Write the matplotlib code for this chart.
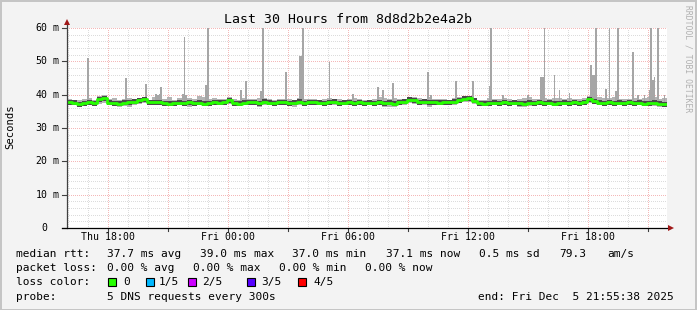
import numpy as np
import matplotlib
matplotlib.use('Agg')
import matplotlib.pyplot as plt
from matplotlib import transforms
from matplotlib.patches import Rectangle

# ---------------- data ----------------
START = 15 + 55/60 + 38/3600          # Thu 15:55:38 (hours since Thu 00:00)
SPAN = 30.0                            # hours shown
BIN_H = 0.25                           # median bins: 15 minutes
STEP_H = 5/60                          # probe step: 300 s

median_ms = [
    37.7,37.6,37.2,37.5,37.8,37.4,38.6,39.0,37.6,37.4,
    37.3,37.6,37.8,37.9,38.3,38.6,37.7,37.8,37.7,37.5,
    37.3,37.4,37.6,37.5,37.8,37.4,37.6,37.3,37.5,37.7,
    37.6,37.8,38.4,37.5,37.3,37.6,37.8,37.7,37.4,37.9,
    37.6,37.5,37.8,37.7,37.4,37.6,37.9,37.5,37.7,37.8,
    37.6,37.4,37.7,37.9,37.5,37.6,37.8,37.4,37.7,37.5,
    37.6,37.4,37.8,37.5,37.6,37.3,37.7,37.9,38.5,38.3,
    37.8,37.9,37.7,37.8,37.6,37.8,37.7,37.9,38.4,38.8,
    39.0,38.2,37.4,37.3,37.5,37.6,37.4,37.7,37.5,37.6,
    37.4,37.3,37.6,37.5,37.7,37.4,37.6,37.3,37.5,37.6,
    37.4,37.7,37.5,37.8,38.6,38.1,37.6,37.5,37.7,37.4,
    37.6,37.5,37.7,37.4,37.6,37.3,37.5,37.6,37.3,37.1,
]
smoke_hi_ms = [
    38.8,38.4,38.3,38.8,38.9,38.5,39.6,39.8,38.6,39.0,
    38.4,38.7,38.9,38.6,39.1,39.4,38.5,39.4,39.6,38.7,
    39.2,38.5,39.0,39.8,38.9,38.7,39.6,39.3,38.8,38.9,
    38.6,38.8,39.2,38.7,38.5,38.9,38.6,38.8,39.0,38.9,
    38.7,38.5,38.8,38.6,38.8,38.5,38.9,38.7,38.6,38.7,
    38.5,38.8,39.0,38.8,38.6,38.5,38.8,39.0,38.7,38.5,
    38.4,38.8,39.3,39.0,38.7,39.1,38.8,38.6,39.3,39.2,
    38.9,38.8,39.2,38.8,38.6,38.7,38.5,38.9,39.2,39.6,
    39.7,39.0,38.5,38.4,39.0,38.8,38.6,39.0,38.7,38.5,
    38.6,38.9,39.2,38.6,38.8,39.0,38.7,38.9,39.1,38.7,
    39.0,38.7,38.8,38.9,39.6,39.8,39.3,39.0,39.1,39.2,
    38.7,38.8,38.7,39.0,38.8,38.9,39.4,39.2,38.7,39.0,
]
smoke_lo_ms = [
    36.9,36.8,36.6,36.7,37.0,36.7,37.3,37.6,36.9,36.6,
    36.3,36.6,36.4,37.0,37.3,37.4,36.9,37.0,36.8,36.7,
    36.5,36.7,36.8,36.6,36.3,36.6,36.8,36.6,36.7,36.9,
    36.8,37.0,37.2,36.7,36.5,36.8,37.0,36.8,36.4,37.0,
    36.8,36.7,37.0,36.8,36.5,36.3,37.0,36.7,36.8,37.0,
    36.8,36.6,36.9,37.0,36.7,36.8,37.0,36.6,36.9,36.7,
    36.8,36.5,37.0,36.4,36.4,36.3,36.9,37.0,37.4,37.2,
    36.9,37.0,36.3,37.0,36.8,37.0,36.9,37.0,37.4,37.7,
    37.9,37.3,36.6,36.5,36.7,36.8,36.6,36.9,36.7,36.8,
    36.4,36.3,36.5,36.7,36.9,36.6,36.8,36.5,36.7,36.8,
    36.6,36.9,36.7,37.0,37.5,37.2,36.8,36.7,36.9,36.6,
    36.8,36.7,36.9,36.6,36.8,36.5,36.7,36.5,36.4,36.2,
]
# outlier pings: (probe step index, rtt in ms)
spike_step = [12, 35, 47, 53, 54, 55, 56, 69, 70, 71, 83, 84, 104, 107, 116, 117,
              131, 139, 140, 141, 157, 171, 186, 189, 195, 216, 218, 233, 243,
              253, 254, 261, 276, 284, 285, 286, 292, 295, 301, 314, 315, 316,
              317, 323, 325, 329, 330, 339, 342, 346, 349, 350, 351, 352, 354, 358]
spike_ms = [51.1, 45.1, 43.2, 40.2, 40.0, 40.3, 42.4, 40.2, 57.4, 40.0, 43.0, 72.0,
            41.4, 44.1, 41.0, 75.0, 46.7, 51.6, 51.6, 68.0, 49.9, 40.2, 42.4, 41.4,
            43.4, 46.7, 40.0, 44.1, 44.1, 42.6, 70.0, 40.0, 40.0, 45.4, 45.4, 80.0,
            45.9, 41.4, 40.5, 48.9, 45.9, 45.9, 65.0, 41.7, 70.0, 41.0, 80.0, 52.9,
            40.0, 40.0, 41.4, 70.0, 44.3, 45.4, 70.0, 40.0]

y_ticks = [0, 10, 20, 30, 40, 50, 60]
x_tick_hours = [18, 24, 30, 36, 42]
x_tick_labels = ['Thu 18:00', 'Fri 00:00', 'Fri 06:00', 'Fri 12:00', 'Fri 18:00']

title = 'Last 30 Hours from 8d8d2b2e4a2b'
rtt_avg, rtt_max, rtt_min, rtt_now, rtt_sd, rtt_ams = 37.7, 39.0, 37.0, 37.1, 0.5, 79.3
loss_avg, loss_max, loss_min, loss_now = 0.0, 0.0, 0.0, 0.0
loss_labels = ['0', '1/5', '2/5', '3/5', '4/5']
loss_colors = ['#26ff00', '#00b8ff', '#cc00ff', '#5500ff', '#ff0000']
probe_text = '5 DNS requests every 300s'
end_text = 'end: Fri Dec  5 21:55:38 2025'

# ---------------- figure ----------------
W, H = 697, 310
plt.rcParams['font.family'] = ['DejaVu Sans Mono']
fig = plt.figure(figsize=(W/100, H/100), dpi=100, facecolor='#f3f3f3')
fig.patches.append(Rectangle((0.5/W, 0.5/H), 1 - 1.5/W, 1 - 1.5/H, transform=fig.transFigure,
                             fill=False, edgecolor='#c4c4c4', lw=1.4))

ax = fig.add_axes([67/W, 82/H, 600/W, 200/H])
ax.set_facecolor('white')
ax.set_xlim(START, START + SPAN)
ax.set_ylim(0, 60)
for s in ax.spines.values():
    s.set_visible(False)
ax.set_xticks([]); ax.set_yticks([])

# grid (dotted, crisp, pale)
dot = (0, (1, 1.6))
gkw = dict(lw=0.72, ls=dot, antialiased=False)
for v in np.arange(2, 61, 2):
    if v % 10:
        ax.axhline(v, color='#dcdcdc', zorder=0.5, **gkw)
for v in y_ticks[1:]:
    ax.axhline(v, color='#f4b8b8', zorder=0.6, **gkw)
first_hour = np.ceil(START)
for h in np.arange(first_hour, START + SPAN, 1.0):
    if int(h) % 3:
        ax.axvline(h, color='#dcdcdc', zorder=0.5, **gkw)
    else:
        ax.axvline(h, color='#f4b8b8', zorder=0.6, **gkw)

# smoke
med = np.array(median_ms)
lo = np.array(smoke_lo_ms)
hi = np.array(smoke_hi_ms)
t_bins = START + BIN_H * np.arange(len(med))
ax.bar(t_bins, hi - lo, bottom=lo, width=BIN_H, align='edge', color='#b4b4b4', lw=0, zorder=2)

sp_t = START + STEP_H * np.array(spike_step)
sp_v = np.array(spike_ms)
base = med[(np.array(spike_step) * STEP_H / BIN_H).astype(int)]
ax.bar(sp_t, sp_v - base, bottom=base, width=STEP_H, align='edge', color='#a6a6a6', lw=0, zorder=2.5)

t_edges = np.append(t_bins, START + SPAN)
med_ext = np.append(med, med[-1])
ax.fill_between(t_edges, med_ext - 0.75, med_ext + 0.75, step='post', color='#4a4a4a', lw=0, zorder=3)
ax.step(t_edges, med_ext, where='post', color=loss_colors[0], lw=2.0, zorder=4)

# axes lines + arrows
axis_c = '#404040'
ax.plot([0, 0], [0, 1 + 6/200], transform=ax.transAxes, color=axis_c, lw=0.9, clip_on=False, zorder=5)
ax.plot([-5/600, 1 + 3/600], [0, 0], transform=ax.transAxes, color='black', lw=0.9, clip_on=False, zorder=5)
ax.plot([0], [1 + 6/200], transform=ax.transAxes, marker='^', ms=4.5, color='#a01818', mew=0,
        clip_on=False, zorder=6)
ax.plot([1 + 4/600], [0], transform=ax.transAxes, marker='>', ms=4.5, color='#a01818', mew=0,
        clip_on=False, zorder=6)

# y ticks & labels
yt = transforms.blended_transform_factory(fig.transFigure, ax.transData)
for v in y_ticks:
    ax.plot([62/W, 67/W], [v, v], transform=yt, color=axis_c, lw=0.8, clip_on=False)
    fig.text(47.5/W, v, f'{v}', transform=yt, ha='right', va='center', fontsize=7.1, color='black')
    if v:
        fig.text(53/W, v, 'm', transform=yt, ha='left', va='center', fontsize=7.1, color='black')

# x ticks & labels
xt = transforms.blended_transform_factory(ax.transData, fig.transFigure)
for h in np.arange(first_hour, START + SPAN, 1.0):
    if int(h) % 3 == 0:
        ax.plot([h, h], [1 - 228/H, 1 - 231/H], transform=xt, color=axis_c, lw=0.8, clip_on=False)
for h, lab in zip(x_tick_hours, x_tick_labels):
    fig.text(h, 1 - 237.5/H, lab, transform=xt, ha='center', va='center', fontsize=7.1)

# title and side texts
fig.text(347.5/W, 1 - 19.5/H, title, ha='center', va='center', fontsize=9.5)
fig.text(10/W, 1 - 127/H, 'Seconds', rotation=90, ha='center', va='center', fontsize=7.6)
fig.text(688/W, 1 - 5/H, 'RRDTOOL / TOBI OETIKER', rotation=270, ha='center', va='top',
         fontsize=5.8, color='#b0b0b0')

# legend
fs = 8
def row(y, chunks):
    for txt, x in chunks:
        fig.text(x/W, 1 - y/H, txt, ha='left', va='center', fontsize=fs)

row(254, [('median rtt:', 16), (f'{rtt_avg:.1f} ms avg', 107), (f'{rtt_max:.1f} ms max', 200),
          (f'{rtt_min:.1f} ms min', 292), (f'{rtt_now:.1f} ms now', 386), (f'{rtt_sd:.1f} ms sd', 479),
          (f'{rtt_ams:.1f}', 559), ('am/s', 607)])
row(268, [('packet loss:', 16), (f'{loss_avg:.2f} % avg', 107), (f'{loss_max:.2f} % max', 193),
          (f'{loss_min:.2f} % min', 279), (f'{loss_now:.2f} % now', 365)])
row(282, [('loss color:', 16)])
box_x = [108, 146, 188, 247, 298]
lab_x = [123, 159, 202, 261, 313]
for bx, lx, lab, col in zip(box_x, lab_x, loss_labels, loss_colors):
    fig.patches.append(Rectangle((bx/W, 1 - 286/H), 8/W, 8/H, transform=fig.transFigure,
                                 facecolor=col, edgecolor='black', lw=0.8))
    fig.text(lx/W, 1 - 282/H, lab, ha='left', va='center', fontsize=fs)
row(297, [('probe:', 16), (probe_text, 107), (end_text, 478)])

fig.savefig('out.png', dpi=100, facecolor=fig.get_facecolor())
